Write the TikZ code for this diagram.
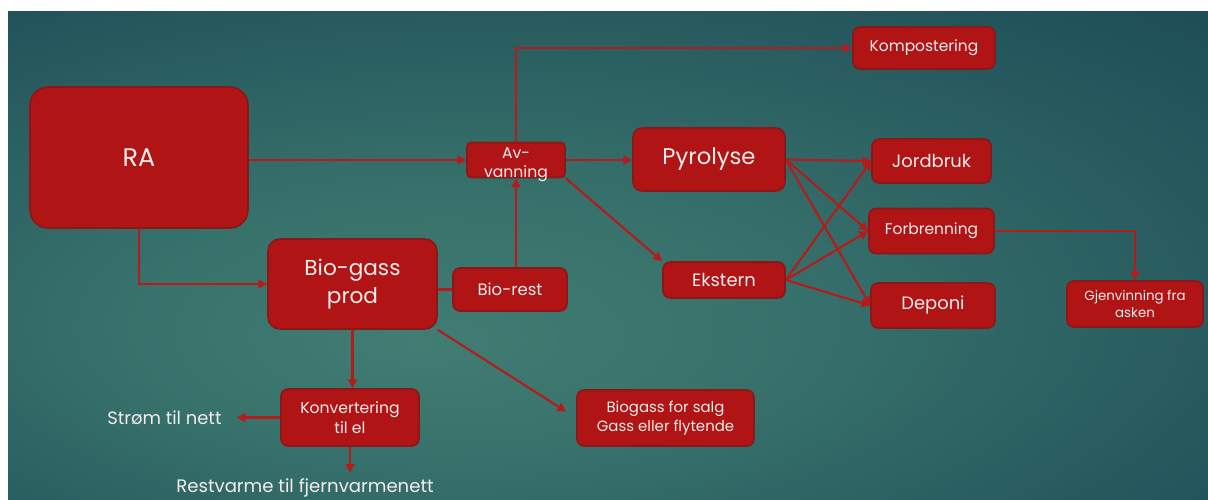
\documentclass[tikz,border=0pt]{standalone}
\usepackage{fontspec}
\setmainfont{Poppins}
\usepackage{tikz}
\usetikzlibrary{arrows.meta,positioning}
\definecolor{bglight}{HTML}{417D73}
\definecolor{bgsoft}{HTML}{37716B}
\definecolor{bgmid}{HTML}{22535B}
\definecolor{bgdark}{HTML}{133848}
\definecolor{boxred}{HTML}{B01414}
\definecolor{boxedge}{HTML}{8A1818}
\definecolor{linered}{HTML}{B51B1B}
\definecolor{labeltext}{HTML}{F3EDED}
\pgfdeclareradialshading{slidebg}{\pgfpoint{-8bp}{-9bp}}{color(0bp)=(bglight); color(14bp)=(bgsoft); color(36bp)=(bgmid); color(58bp)=(bgdark); color(75bp)=(bgdark)}
\pgfdeclarelayer{bg}
\pgfdeclarelayer{wires}
\pgfsetlayers{bg,wires,main}
\tikzset{
    box/.style={draw=boxedge, line width=0.9pt, fill=boxred, text=labeltext, rounded corners=0.14cm, align=center, inner sep=0pt},
    midtext/.style={font=\fontsize{10.2}{12}\selectfont},
    smalltext/.style={font=\fontsize{8.8}{11}\selectfont},
    tinytext/.style={font=\fontsize{8.9}{11}\selectfont},
    flow/.style={linered, line width=1.2pt, -{Triangle[length=5pt,width=5pt]}},
    link/.style={linered, line width=1.2pt}
}

\begin{document}
\begin{tikzpicture}[x=0.02cm, y=-0.02cm]
    % Slide background
    \begin{pgfonlayer}{bg}
        \fill[white] (0,0) rectangle (1208,500);
        \shade[shading=slidebg] (8,12) rectangle (1208,500);
    \end{pgfonlayer}

    % Main boxes
    \node[box, font=\fontsize{14.5}{16}\selectfont, minimum width=4.36cm, minimum height=2.82cm, rounded corners=0.36cm] (ra) at (139,157.5) {RA};
    \node[box, tinytext, minimum width=1.96cm, minimum height=0.7cm, rounded corners=0.08cm] (avvanning) at (516,160) {\raisebox{-4.5pt}[0pt][0pt]{\begin{tabular}{@{}c@{}}Av-\\vanning\end{tabular}}};
    \node[box, smalltext, minimum width=2.84cm, minimum height=0.84cm] (kompost) at (924,48) {Kompostering};
    \node[box, font=\fontsize{12.9}{15}\selectfont, minimum width=3.04cm, minimum height=1.26cm, rounded corners=0.18cm] (pyrolyse) at (709,159.5) {Pyrolyse};
    \node[box, midtext, minimum width=2.44cm, minimum height=0.72cm] (ekstern) at (724,280) {Ekstern};

    % Outlets
    \node[box, midtext, minimum width=2.38cm, minimum height=0.88cm] (jordbruk) at (931.5,161) {Jordbruk};
    \node[box, smalltext, minimum width=2.5cm, minimum height=0.9cm] (forbrenning) at (931.5,231) {Forbrenning};
    \node[box, midtext, minimum width=2.48cm, minimum height=0.9cm] (deponi) at (933,305.5) {Deponi};
    \node[box, font=\fontsize{7.6}{9.5}\selectfont, minimum width=2.72cm, minimum height=0.92cm] (gjenvinning) at (1135,304) {Gjenvinning fra\\asken};

    % Biogas branch
    \node[box, font=\fontsize{12.3}{16}\selectfont, minimum width=3.38cm, minimum height=1.8cm, rounded corners=0.24cm] (biogass) at (352.5,284) {Bio-gass\\prod};
    \node[box, font=\fontsize{9.4}{11}\selectfont, minimum width=2.28cm, minimum height=0.86cm] (biorest) at (510,289.5) {Bio-rest};
    \node[box, tinytext, minimum width=2.76cm, minimum height=1.14cm] (konv) at (350,417.5) {Konvertering\\til el};
    \node[box, font=\fontsize{8.5}{11}\selectfont, minimum width=3.54cm, minimum height=1.12cm] (salg) at (665.5,418) {Biogass for salg\\Gass eller flytende};

    % Free texts
    \node[anchor=base west, inner sep=0pt, text=labeltext, font=\fontsize{10.2}{13}\selectfont] (strom) at (107,424) {Strøm til nett};
    \node[anchor=base west, inner sep=0pt, text=labeltext, font=\fontsize{10.3}{13}\selectfont] (restvarme) at (176,492) {Restvarme til fjernvarmenett};

    % Connectors
    \begin{pgfonlayer}{wires}
        \draw[flow] (ra.east |- avvanning.west) -- (avvanning.west);
        \draw[flow] (ra.south) |- (biogass.west);
        \draw[flow] (avvanning.north) |- (kompost.west);
        \draw[flow] (avvanning.east) -- (avvanning.east -| pyrolyse.west);
        \draw[flow] (avvanning.south east) -- (ekstern.north west);
        \draw[flow] (avvanning.south |- biorest.north) -- (avvanning.south);
        \draw[link] (biogass.east |- biorest.west) -- (biorest.west);
        \draw[flow] (biogass.south) -- (biogass.south |- konv.north);
        \draw[flow, shorten >=0.24cm] (biogass.south east) -- (salg.west);
        \draw[flow, shorten >=0.3cm] (konv.west) -- (konv.west -| strom.east);
        \draw[flow, shorten >=0.1cm] (konv.south) -- (konv.south |- restvarme.north);

        \draw[flow] (pyrolyse.east) -- (jordbruk.west);
        \draw[flow] (pyrolyse.east) -- (forbrenning.west);
        \draw[flow] (pyrolyse.east) -- (deponi.west);
        \draw[flow] (ekstern.east) -- (jordbruk.west);
        \draw[flow] (ekstern.east) -- (forbrenning.west);
        \draw[flow] (ekstern.east) -- (deponi.west);
        \draw[flow] (forbrenning.east) -| (gjenvinning.north);
    \end{pgfonlayer}
\end{tikzpicture}
\end{document}
